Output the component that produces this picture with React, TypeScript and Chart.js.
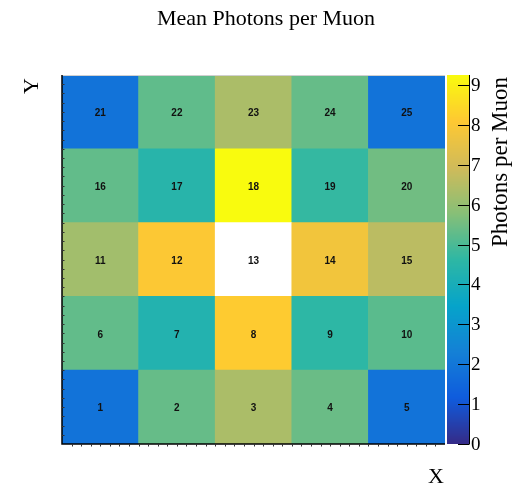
import React, { useEffect, useRef } from "react";
import { Chart, registerables } from "chart.js";

Chart.register(...registerables);

const columns = ["1", "2", "3", "4", "5"];
// rows from bottom (y bin 1) to top (y bin 5)
const row1 = [1.9, 5.35, 6.35, 5.4, 1.9];
const row2 = [5.3, 4.3, 8.15, 4.6, 5.2];
const row3 = [6.2, 8.05, 0, 7.8, 6.6];
const row4 = [5.3, 4.45, 9.25, 4.7, 5.5];
const row5 = [1.9, 5.27, 6.35, 5.35, 1.9];
const rows = [row1, row2, row3, row4, row5];
const cellIds = [
  [1, 2, 3, 4, 5],
  [6, 7, 8, 9, 10],
  [11, 12, 13, 14, 15],
  [16, 17, 18, 19, 20],
  [21, 22, 23, 24, 25],
];
const zMin = 0;
const zMax = 9.25;
const zTicks = [0, 1, 2, 3, 4, 5, 6, 7, 8, 9];

const title = "Mean Photons per Muon";
const xTitle = "X";
const yTitle = "Y";
const zTitle = "Photons per Muon";

const stops = [0, 0.125, 0.25, 0.375, 0.5, 0.625, 0.75, 0.875, 1.0];
const pr = [0.2082, 0.0592, 0.078, 0.0232, 0.1802, 0.5301, 0.8186, 0.9956, 0.9764];
const pg = [0.1664, 0.3599, 0.5041, 0.6419, 0.7178, 0.7492, 0.7328, 0.7862, 0.9832];
const pb = [0.5293, 0.8684, 0.8385, 0.7914, 0.6425, 0.4662, 0.3499, 0.1968, 0.0539];

function bird(t: number): string {
  t = Math.max(0, Math.min(1, t));
  let i = 0;
  while (i < stops.length - 2 && t > stops[i + 1]) i++;
  const f = (t - stops[i]) / (stops[i + 1] - stops[i]);
  const r = pr[i] + (pr[i + 1] - pr[i]) * f;
  const g = pg[i] + (pg[i + 1] - pg[i]) * f;
  const b = pb[i] + (pb[i + 1] - pb[i]) * f;
  return `rgb(${Math.round(r * 255)},${Math.round(g * 255)},${Math.round(b * 255)})`;
}

function colorFor(v: number): string {
  if (v <= 0) return "#ffffff";
  return bird((v - zMin) / (zMax - zMin));
}

const rootPlugin = {
  id: "rootStyle",
  afterDatasetsDraw(chart: any) {
    const ctx = chart.ctx;
    ctx.save();
    ctx.fillStyle = "#111";
    ctx.font = "bold 10px 'Liberation Sans', Arial, sans-serif";
    ctx.textAlign = "center";
    ctx.textBaseline = "middle";
    rows.forEach((_r, ri) => {
      const meta = chart.getDatasetMeta(ri);
      meta.data.forEach((bar: any, ci: number) => {
        const cy = (bar.y + bar.base) / 2 + 1.5;
        ctx.fillText(String(cellIds[ri][ci]), bar.x, cy);
      });
    });
    ctx.restore();
  },
  afterDraw(chart: any) {
    const ctx = chart.ctx;
    const a = chart.chartArea;
    const z = chart.scales.z;
    ctx.save();
    // frame
    ctx.strokeStyle = "#d0d0d0";
    ctx.lineWidth = 1;
    ctx.beginPath();
    ctx.moveTo(a.left, a.top + 0.5);
    ctx.lineTo(a.right, a.top + 0.5);
    ctx.stroke();
    ctx.strokeStyle = "#000";
    ctx.lineWidth = 1.5;
    ctx.beginPath();
    ctx.moveTo(a.left, a.top);
    ctx.lineTo(a.left, a.bottom);
    ctx.lineTo(a.right, a.bottom);
    ctx.stroke();
    // minor ticks
    ctx.lineWidth = 1;
    ctx.strokeStyle = "#333";
    const n = 40;
    ctx.beginPath();
    for (let i = 1; i < n; i++) {
      const y = a.bottom - ((a.bottom - a.top) * i) / n;
      ctx.moveTo(a.left, Math.round(y) + 0.5);
      ctx.lineTo(a.left + 2.5, Math.round(y) + 0.5);
      const x = a.left + ((a.right - a.left) * i) / n;
      ctx.moveTo(Math.round(x) + 0.5, a.bottom);
      ctx.lineTo(Math.round(x) + 0.5, a.bottom + 2.5);
    }
    ctx.stroke();

    // colour bar
    const cbL = a.right + 2;
    const cbR = a.right + 24;
    const top = z.getPixelForValue(zMax);
    const bot = z.getPixelForValue(zMin);
    for (let y = Math.floor(top); y < Math.ceil(bot); y++) {
      const v = z.getValueForPixel(y + 0.5);
      ctx.fillStyle = bird((v - zMin) / (zMax - zMin));
      ctx.fillRect(cbL, y, cbR - cbL, 1);
    }
    ctx.strokeStyle = "#000";
    ctx.lineWidth = 1;
    ctx.beginPath();
    ctx.moveTo(cbR + 0.5, top);
    ctx.lineTo(cbR + 0.5, bot);
    zTicks.forEach((t) => {
      const y = Math.round(z.getPixelForValue(t)) + 0.5;
      ctx.moveTo(cbR - 11, y);
      ctx.lineTo(cbR + 0.5, y);
    });
    ctx.stroke();
    ctx.fillStyle = "#000";
    ctx.font = "19px 'Liberation Serif', 'Times New Roman', serif";
    ctx.textAlign = "left";
    ctx.textBaseline = "middle";
    zTicks.forEach((t) => {
      ctx.fillText(String(t), cbR + 2, z.getPixelForValue(t) + 1);
    });

    // titles
    ctx.textBaseline = "alphabetic";
    ctx.font = "22px 'Liberation Serif', 'Times New Roman', serif";
    ctx.textAlign = "center";
    ctx.fillText(title, 266, 25);
    ctx.textAlign = "right";
    ctx.fillText(xTitle, 444, 483);
    ctx.save();
    ctx.translate(38, 78);
    ctx.rotate(-Math.PI / 2);
    ctx.textAlign = "right";
    ctx.fillText(yTitle, 0, 0);
    ctx.restore();
    ctx.save();
    ctx.font = "23px 'Liberation Serif', 'Times New Roman', serif";
    ctx.translate(507, 77);
    ctx.rotate(-Math.PI / 2);
    ctx.textAlign = "right";
    ctx.fillText(zTitle, 0, 0);
    ctx.restore();
    ctx.restore();
  },
};

export default function App() {
  const ref = useRef<HTMLCanvasElement | null>(null);
  useEffect(() => {
    if (!ref.current) return;
    const chart = new Chart(ref.current, {
      type: "bar",
      data: {
        labels: columns,
        datasets: rows.map((r, ri) => ({
          label: `row ${ri + 1}`,
          data: r.map(() => 1),
          backgroundColor: r.map((v) => colorFor(v)),
          borderWidth: 0,
          barPercentage: 1,
          categoryPercentage: 1,
        })),
      },
      options: {
        responsive: false,
        animation: false,
        devicePixelRatio: 1,
        layout: { padding: { left: 62, top: 75, right: 76, bottom: 44 } },
        plugins: { legend: { display: false }, tooltip: { enabled: false }, title: { display: false } },
        scales: {
          x: { stacked: true, display: false, grid: { display: false } },
          y: { stacked: true, display: false, min: 0, max: 5, grid: { display: false } },
          z: { type: "linear", position: "right", display: false, min: zMin, max: zMax },
        },
      },
      plugins: [rootPlugin],
    } as any);
    return () => chart.destroy();
  }, []);
  return (
    <div style={{ position: "absolute", left: 0, top: 0, width: 521, height: 488, background: "#fff" }}>
      <canvas ref={ref} width={521} height={488} style={{ display: "block" }} />
    </div>
  );
}
